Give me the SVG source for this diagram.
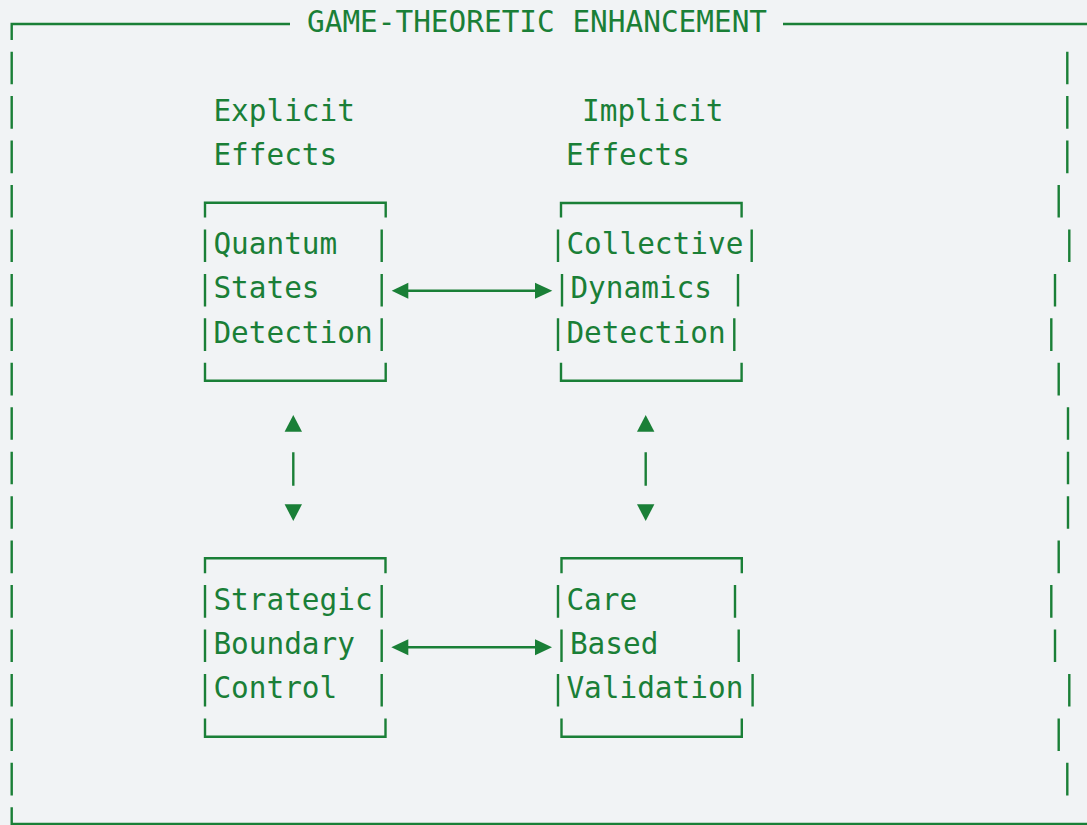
<svg xmlns="http://www.w3.org/2000/svg" width="1087" height="825" viewBox="0 0 1087 825">
<style>
.t{font-family:"DejaVu Sans Mono","Liberation Mono",monospace;font-size:29.4px;fill:#1a7f37}
.ln{stroke:#1a7f37;stroke-width:2.4;fill:none}
.ar{stroke:#1a7f37;stroke-width:2.6;fill:none}
.hd{fill:#1a7f37}
</style>
<rect x="0" y="0" width="1087" height="825" fill="#f1f3f5"/>
<g id="frame">
<path class="ln" d="M11.7 40V24H290M783 24H1087M11.7 807.3V824H1087"/>
<path class="ln" d="M11.7 51.65v32.6M11.7 96.1v32.6M11.7 140.55v32.6M11.7 185v32.6M11.7 229.45v32.6M11.7 273.9v32.6M11.7 318.35v32.6M11.7 362.8v32.6M11.7 407.25v32.6M11.7 451.7v32.6M11.7 496.15v32.6M11.7 540.6v32.6M11.7 585.05v32.6M11.7 629.5v32.6M11.7 673.95v32.6M11.7 718.4v32.6M11.7 762.85v32.6"/>
<path class="ln" d="M1067.3 51.65v32.6M1067.3 96.1v32.6M1067.3 140.55v32.6M1058.7 185v32.6M1069.3 229.45v32.6M1055 273.9v32.6M1051.3 318.35v32.6M1058.7 362.8v32.6M1068 407.25v32.6M1068 451.7v32.6M1068 496.15v32.6M1058.7 540.6v32.6M1051.3 585.05v32.6M1055 629.5v32.6M1069.3 673.95v32.6M1058.7 718.4v32.6M1067.3 762.85v32.6"/>
<text class="t" x="307" y="32.2">GAME-THEORETIC ENHANCEMENT</text>
</g>
<g id="label-explicit">
<text class="t" x="213.4" y="120.6">Explicit</text>
<text class="t" x="213.4" y="165.05">Effects</text>
</g>
<g id="label-implicit">
<text class="t" x="582" y="120.6">Implicit</text>
<text class="t" x="566" y="165.05">Effects</text>
</g>
<g id="quantum-states-detection">
<path class="ln" d="M205 217.6V202.7H385.7V217.6M205 229.45v32.6M205 273.9v32.6M205 318.35v32.6M381.7 229.45v32.6M381.7 273.9v32.6M381.7 318.35v32.6M205 362.8V380.7H385.7V362.8"/>
<text class="t" x="213.4" y="254">Quantum</text>
<text class="t" x="213.4" y="298.4">States</text>
<text class="t" x="213.4" y="342.85">Detection</text>
</g>
<g id="collective-dynamics-detection">
<path class="ln" d="M561 217.6V203H741.6V217.6M558 229.45v32.6M562 273.9v32.6M558 318.35v32.6M751.7 229.45v32.6M738 273.9v32.6M734.3 318.35v32.6M561 362.8V380.7H741.6V362.8"/>
<text class="t" x="566.4" y="254">Collective</text>
<text class="t" x="570.4" y="298.4">Dynamics</text>
<text class="t" x="566.4" y="342.85">Detection</text>
</g>
<g id="strategic-boundary-control">
<path class="ln" d="M205 573.2V558.3H385.5V573.2M205 585.05v32.6M205 629.5v32.6M205 673.95v32.6M381.7 585.05v32.6M381.7 629.5v32.6M381.7 673.95v32.6M205 718.4V736.7H385.5V718.4"/>
<text class="t" x="213.4" y="609.55">Strategic</text>
<text class="t" x="213.4" y="654">Boundary</text>
<text class="t" x="213.4" y="698.45">Control</text>
</g>
<g id="care-based-validation">
<path class="ln" d="M561.5 573.2V558.3H741.8V573.2M558 585.05v32.6M561.5 629.5v32.6M558 673.95v32.6M735 585.05v32.6M738.7 629.5v32.6M752.6 673.95v32.6M561.5 718.4V736.7H741.8V718.4"/>
<text class="t" x="566.4" y="609.55">Care</text>
<text class="t" x="569.9" y="654">Based</text>
<text class="t" x="566.4" y="698.45">Validation</text>
</g>
<g id="connectors">
<path class="ar" d="M407 290.7H536M407 647.3H536"/>
<polygon class="hd" points="391.7,290.7 408.3,282.7 408.3,298.7"/>
<polygon class="hd" points="552.3,290.7 535,282.7 535,298.7"/>
<polygon class="hd" points="391.3,647.3 408.3,639.3 408.3,655.3"/>
<polygon class="hd" points="552,647.3 535,639.3 535,655.3"/>
<path class="ln" d="M293.3 452.3V485.7M645.7 452.3V485.7"/>
<polygon class="hd" points="293.3,415 284.6,431.7 302,431.7"/>
<polygon class="hd" points="284.6,504.3 302,504.3 293.3,521"/>
<polygon class="hd" points="645.7,415 637,431.7 654.4,431.7"/>
<polygon class="hd" points="637,504.3 654.4,504.3 645.7,521"/>
</g>
</svg>
